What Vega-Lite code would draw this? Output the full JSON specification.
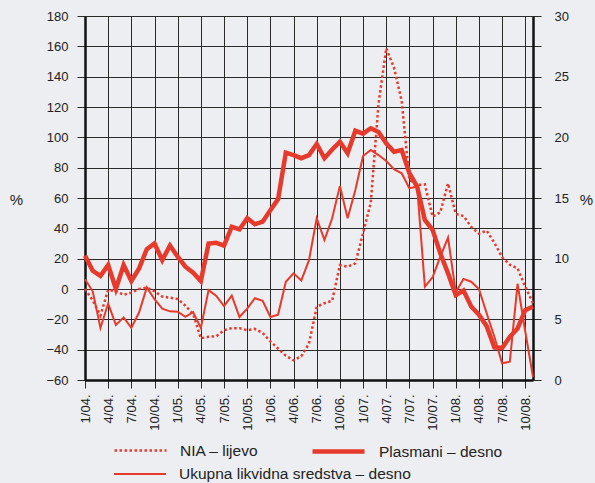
{
  "$schema": "https://vega.github.io/schema/vega-lite/v6.json",
  "width": 448,
  "height": 364,
  "autosize": {"type": "none"},
  "padding": {"left": 85, "top": 16, "right": 62, "bottom": 103},
  "background": "#eceef1",
  "title": {"text": "Izvor: HNB", "orient": "bottom", "anchor": "start", "frame": "group", "dx": 452, "offset": 39, "fontSize": 12.5, "fontWeight": "normal", "color": "#222", "font": "Liberation Sans"},
  "config": {
    "view": {"stroke": null, "fill": "#eceef1"},
    "font": "Liberation Sans",
    "axis": {
      "labelFont": "Liberation Sans", "labelFontSize": 13, "labelColor": "#222",
      "gridColor": "#2a2a2a", "gridOpacity": 1, "gridWidth": 1,
      "tickColor": "#2a2a2a", "tickSize": 8, "tickWidth": 1,
      "domainColor": "#111", "domainWidth": 2.5,
      "labelOverlap": false, "labelFlush": false,
      "titleFont": "Liberation Sans", "titleFontSize": 15, "titleFontWeight": "normal", "titleColor": "#222"
    },
    "legend": {"labelFont": "Liberation Sans", "labelFontSize": 15.5, "labelColor": "#222", "labelLimit": 400, "symbolType": "stroke", "symbolSize": 2704, "labelOffset": 12, "padding": 0, "title": null}
  },
  "data": {"values": [
    {"d": "2004-01", "nia": 0, "pl": 10.25, "uk": 8.3},
    {"d": "2004-02", "nia": -7.5, "pl": 9.0, "uk": 7.31},
    {"d": "2004-03", "nia": -17.5, "pl": 8.58, "uk": 4.29},
    {"d": "2004-04", "nia": -0.5, "pl": 9.48, "uk": 6.3},
    {"d": "2004-05", "nia": -1.5, "pl": 7.5, "uk": 4.54},
    {"d": "2004-06", "nia": -3.8, "pl": 9.48, "uk": 5.16},
    {"d": "2004-07", "nia": -2.4, "pl": 8.16, "uk": 4.3},
    {"d": "2004-08", "nia": 0, "pl": 9.2, "uk": 5.56},
    {"d": "2004-09", "nia": 1, "pl": 10.78, "uk": 7.63},
    {"d": "2004-10", "nia": -1.5, "pl": 11.25, "uk": 6.66},
    {"d": "2004-11", "nia": -5, "pl": 9.88, "uk": 5.88},
    {"d": "2004-12", "nia": -5.7, "pl": 11.08, "uk": 5.66},
    {"d": "2005-01", "nia": -6.6, "pl": 10.16, "uk": 5.63},
    {"d": "2005-02", "nia": -11, "pl": 9.34, "uk": 5.21},
    {"d": "2005-03", "nia": -16.5, "pl": 8.84, "uk": 5.6},
    {"d": "2005-04", "nia": -32.5, "pl": 8.16, "uk": 4.3},
    {"d": "2005-05", "nia": -31.5, "pl": 11.25, "uk": 7.41},
    {"d": "2005-06", "nia": -31.2, "pl": 11.31, "uk": 6.93},
    {"d": "2005-07", "nia": -27.2, "pl": 11.08, "uk": 6.1},
    {"d": "2005-08", "nia": -25.8, "pl": 12.63, "uk": 6.96},
    {"d": "2005-09", "nia": -25.8, "pl": 12.41, "uk": 5.19},
    {"d": "2005-10", "nia": -27.2, "pl": 13.33, "uk": 5.88},
    {"d": "2005-11", "nia": -26.3, "pl": 12.83, "uk": 6.74},
    {"d": "2005-12", "nia": -29, "pl": 13.05, "uk": 6.53},
    {"d": "2006-01", "nia": -34.5, "pl": 14.0, "uk": 5.19},
    {"d": "2006-02", "nia": -39.3, "pl": 14.91, "uk": 5.39},
    {"d": "2006-03", "nia": -44, "pl": 18.74, "uk": 8.1},
    {"d": "2006-04", "nia": -47, "pl": 18.54, "uk": 8.79},
    {"d": "2006-05", "nia": -44.4, "pl": 18.28, "uk": 8.2},
    {"d": "2006-06", "nia": -36, "pl": 18.54, "uk": 9.88},
    {"d": "2006-07", "nia": -11.7, "pl": 19.45, "uk": 13.33},
    {"d": "2006-08", "nia": -9.4, "pl": 18.28, "uk": 11.54},
    {"d": "2006-09", "nia": -7.7, "pl": 19.0, "uk": 13.33},
    {"d": "2006-10", "nia": 15.8, "pl": 19.63, "uk": 16.0},
    {"d": "2006-11", "nia": 14.7, "pl": 18.69, "uk": 13.33},
    {"d": "2006-12", "nia": 16.9, "pl": 20.54, "uk": 15.66},
    {"d": "2007-01", "nia": 36.8, "pl": 20.3, "uk": 18.46},
    {"d": "2007-02", "nia": 57, "pl": 20.75, "uk": 18.95},
    {"d": "2007-03", "nia": 122, "pl": 20.44, "uk": 18.54},
    {"d": "2007-04", "nia": 158.7, "pl": 19.5, "uk": 18.06},
    {"d": "2007-05", "nia": 146, "pl": 18.81, "uk": 17.38},
    {"d": "2007-06", "nia": 124, "pl": 18.95, "uk": 17.04},
    {"d": "2007-07", "nia": 72, "pl": 17.04, "uk": 15.8},
    {"d": "2007-08", "nia": 68.6, "pl": 15.94, "uk": 15.94},
    {"d": "2007-09", "nia": 69, "pl": 13.19, "uk": 7.69},
    {"d": "2007-10", "nia": 47.7, "pl": 12.38, "uk": 8.46},
    {"d": "2007-11", "nia": 50.5, "pl": 10.44, "uk": 10.16},
    {"d": "2007-12", "nia": 69.6, "pl": 8.79, "uk": 11.73},
    {"d": "2008-01", "nia": 49.5, "pl": 7.0, "uk": 7.23},
    {"d": "2008-02", "nia": 48.1, "pl": 7.38, "uk": 8.33},
    {"d": "2008-03", "nia": 41, "pl": 6.06, "uk": 8.1},
    {"d": "2008-04", "nia": 36.5, "pl": 5.38, "uk": 7.5},
    {"d": "2008-05", "nia": 38.5, "pl": 4.44, "uk": 5.5},
    {"d": "2008-06", "nia": 30.5, "pl": 2.69, "uk": 3.56},
    {"d": "2008-07", "nia": 21, "pl": 2.63, "uk": 1.38},
    {"d": "2008-08", "nia": 16, "pl": 3.56, "uk": 1.51},
    {"d": "2008-09", "nia": 13.6, "pl": 4.25, "uk": 7.93},
    {"d": "2008-10", "nia": 1.5, "pl": 5.75, "uk": 4.0},
    {"d": "2008-11", "nia": -9.4, "pl": 6.06, "uk": 0.25}
  ]},
  "layer": [
    {
      "mark": {"type": "line", "strokeWidth": 2.5, "strokeDash": [2.5, 2.5], "strokeCap": "butt"},
      "encoding": {
        "x": {
          "field": "d", "type": "ordinal", "sort": null,
          "scale": {"type": "point", "padding": 0},
          "axis": {
            "title": null, "grid": true, "labelAngle": 270, "labelAlign": "right", "labelBaseline": "middle", "labelPadding": 6,
            "labelOverlap": false, "labelFlush": false, "labelBound": false,
            "values": ["2004-01", "2004-04", "2004-07", "2004-10", "2005-01", "2005-04", "2005-07", "2005-10", "2006-01", "2006-04", "2006-07", "2006-10", "2007-01", "2007-04", "2007-07", "2007-10", "2008-01", "2008-04", "2008-07", "2008-10"],
            "labelExpr": "toNumber(slice(datum.value, 5, 7)) + '/' + slice(datum.value, 2, 4) + '.'"
          }
        },
        "y": {
          "field": "nia", "type": "quantitative",
          "scale": {"domain": [-60, 180], "nice": false, "zero": false},
          "axis": {"orient": "left", "values": [-60, -40, -20, 0, 20, 40, 60, 80, 100, 120, 140, 160, 180], "grid": true, "labelPadding": 9, "title": "%", "titleAngle": 0, "titleAlign": "center", "titleBaseline": "middle", "titleX": -69, "titleY": 183}
        },
        "color": {"datum": "NIA – lijevo", "scale": {"range": ["#e63a2c"]}, "legend": {"orient": "none", "legendX": 28, "legendY": 407, "symbolStrokeWidth": 2.5, "symbolDash": [2.5, 2.5]}}
      }
    },
    {
      "mark": {"type": "line", "strokeWidth": 4.5, "strokeJoin": "miter"},
      "encoding": {
        "x": {"field": "d", "type": "ordinal", "sort": null},
        "y": {
          "field": "pl", "type": "quantitative",
          "scale": {"domain": [0, 30], "nice": false},
          "axis": {"orient": "right", "values": [0, 2.5, 5, 7.5, 10, 12.5, 15, 17.5, 20, 22.5, 25, 27.5, 30], "labelExpr": "datum.value % 5 === 0 ? datum.label : ''", "grid": false, "labelPadding": 13, "title": "%", "titleAngle": 0, "titleAlign": "center", "titleBaseline": "middle", "titleX": 53, "titleY": 183}
        },
        "color": {"datum": "Plasmani – desno", "scale": {"range": ["#e63a2c"]}, "legend": {"orient": "none", "legendX": 225, "legendY": 407, "symbolStrokeWidth": 4.5}}
      }
    },
    {
      "mark": {"type": "line", "strokeWidth": 2},
      "encoding": {
        "x": {"field": "d", "type": "ordinal", "sort": null},
        "y": {
          "field": "uk", "type": "quantitative",
          "scale": {"domain": [0, 30], "nice": false},
          "axis": null
        },
        "color": {"datum": "Ukupna likvidna sredstva – desno", "scale": {"range": ["#e63a2c"]}, "legend": {"orient": "none", "legendX": 28, "legendY": 431, "symbolStrokeWidth": 2}}
      }
    }
  ],
  "resolve": {"scale": {"y": "independent", "color": "independent"}}
}
